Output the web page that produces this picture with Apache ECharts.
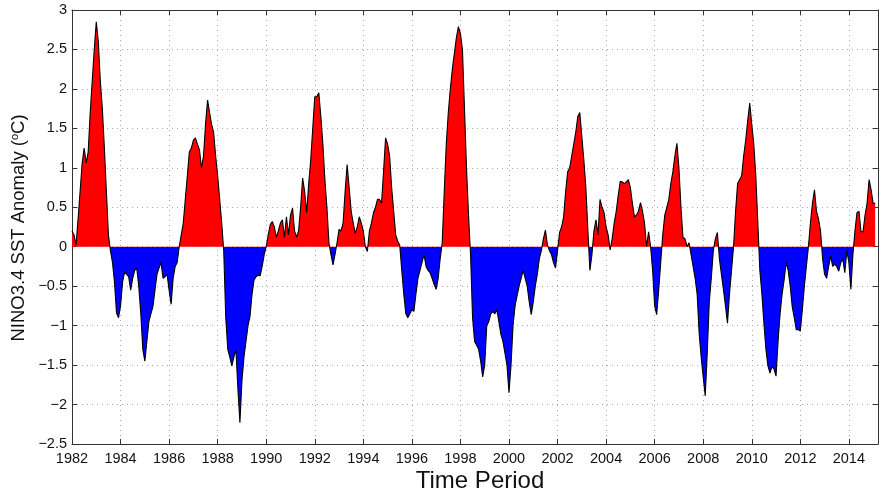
<!DOCTYPE html>
<html>
<head>
<meta charset="utf-8">
<script src="https://cdn.jsdelivr.net/npm/echarts@6/dist/echarts.min.js"></script>
<style>html,body{margin:0;padding:0;background:#fff}#c{width:885px;height:492px}</style>
</head>
<body>
<div id="c"></div>
<script>
// Monthly NINO3.4 SST anomaly (°C), starting January 1982
const startYear = 1982;
const anom1982_1989 = [
  0.2, 0.15, 0.02, 0.35, 0.7, 1.05, 1.25, 1.06, 1.2, 1.7, 2.1, 2.5,
  2.85, 2.6, 2.1, 1.75, 1.25, 0.7, 0.15, -0.05, -0.2, -0.45, -0.84, -0.9,
  -0.75, -0.45, -0.32, -0.35, -0.38, -0.55, -0.4, -0.3, -0.27, -0.5, -0.85, -1.3,
  -1.45, -1.2, -0.95, -0.85, -0.76, -0.55, -0.35, -0.27, -0.2, -0.4, -0.38, -0.35,
  -0.55, -0.73, -0.4, -0.25, -0.2, 0.0, 0.15, 0.3, 0.6, 0.9, 1.2, 1.25,
  1.35, 1.38, 1.3, 1.23, 1.0, 1.15, 1.55, 1.86, 1.7, 1.55, 1.45, 1.15,
  0.9, 0.6, 0.3, -0.05, -0.9, -1.3, -1.4, -1.51, -1.4, -1.3, -1.8, -2.23,
  -1.7, -1.4, -1.2, -1.0, -0.88, -0.6, -0.42, -0.38, -0.36, -0.37, -0.25, -0.1
];
const anom1990_1999 = [
  0.0, 0.15, 0.28, 0.32, 0.25, 0.12, 0.2, 0.3, 0.34, 0.12, 0.38, 0.15,
  0.4, 0.49, 0.2, 0.12, 0.2, 0.5, 0.87, 0.7, 0.43, 0.8, 1.1, 1.5,
  1.9, 1.9, 1.95, 1.65, 1.3, 0.85, 0.5, 0.05, -0.1, -0.23, -0.1, 0.05,
  0.22, 0.2, 0.3, 0.7, 1.04, 0.75, 0.45, 0.3, 0.17, 0.25, 0.38, 0.3,
  0.2, 0.0, -0.06, 0.2, 0.3, 0.43, 0.5, 0.6, 0.6, 0.55, 0.95, 1.38,
  1.3, 1.15, 0.75, 0.45, 0.15, 0.07, 0.02, -0.3, -0.6, -0.85, -0.9, -0.85,
  -0.8, -0.82, -0.6, -0.4, -0.3, -0.2, -0.1, -0.25, -0.3, -0.33, -0.4, -0.48,
  -0.54, -0.4, -0.15, 0.05, 0.7, 1.3, 1.7, 2.0, 2.25, 2.45, 2.65, 2.79,
  2.7, 2.5, 1.75, 1.0, 0.4, -0.1, -0.9, -1.2, -1.25, -1.3, -1.45, -1.65,
  -1.5, -1.0, -0.95, -0.85, -0.82, -0.85, -0.8, -0.95, -1.11, -1.2, -1.35, -1.5
];
const anom2000_2009 = [
  -1.85, -1.5, -1.0, -0.75, -0.62, -0.5, -0.4, -0.3, -0.4, -0.5, -0.7, -0.86,
  -0.7, -0.5, -0.35, -0.15, -0.05, 0.1, 0.21, 0.02, -0.05, -0.1, -0.2, -0.27,
  -0.05, 0.18, 0.25, 0.38, 0.7, 0.95, 1.0, 1.15, 1.3, 1.45, 1.65, 1.7,
  1.4, 1.1, 0.75, 0.2, -0.3, -0.1, 0.2, 0.34, 0.15, 0.6, 0.5, 0.43,
  0.25, 0.15, -0.04, 0.1, 0.3, 0.45, 0.65, 0.83, 0.82, 0.8, 0.82, 0.85,
  0.75, 0.55, 0.38, 0.4, 0.45, 0.56, 0.45, 0.3, 0.0, 0.19, 0.0, -0.3,
  -0.75, -0.86, -0.55, -0.2, 0.15, 0.4, 0.5, 0.6, 0.8, 0.95, 1.15, 1.31,
  1.0, 0.5, 0.12, 0.1, 0.0, 0.05, -0.1, -0.25, -0.4, -0.6, -1.1, -1.4,
  -1.65, -1.89, -1.35, -0.7, -0.4, -0.05, 0.1, 0.18, -0.15, -0.35, -0.54, -0.75,
  -0.97, -0.6, -0.3, 0.0, 0.45, 0.8, 0.85, 0.9, 1.15, 1.35, 1.6, 1.82
];
const anom2010_2015 = [
  1.55, 1.3, 0.9, 0.3, -0.3, -0.6, -0.97, -1.3, -1.51, -1.6, -1.52, -1.55,
  -1.64, -1.2, -0.85, -0.6, -0.42, -0.2, -0.3, -0.5, -0.76, -0.9, -1.05, -1.05,
  -1.07, -0.8, -0.5, -0.25, 0.0, 0.3, 0.55, 0.72, 0.45, 0.35, 0.2, -0.15,
  -0.35, -0.4, -0.25, -0.12, -0.25, -0.22, -0.25, -0.31, -0.2, -0.16, -0.33, -0.05,
  -0.2, -0.54, -0.1, 0.2, 0.43, 0.45, 0.19, 0.19, 0.4, 0.55, 0.85, 0.72,
  0.55, 0.55
];
const xTickYears = [1982,1984,1986,1988,1990,1992,1994,1996,1998,2000,2002,2004,2006,2008,2010,2012,2014];
const yTicks = [-2.5,-2,-1.5,-1,-0.5,0,0.5,1,1.5,2,2.5,3];

const values = anom1982_1989.concat(anom1990_1999, anom2000_2009, anom2010_2015);
const series = values.map((v, i) => [startYear + i / 12, v]);

const FONT = 'Liberation Sans';
const chart = echarts.init(document.getElementById('c'), null, {renderer: 'canvas'});
const gridLine = {show: true, lineStyle: {color: '#aaaaaa', width: 1, type: [1, 4]}};
const axLine = {show: true, onZero: false, lineStyle: {color: '#333', width: 1}};
const ticks = {show: true, inside: true, length: 5, lineStyle: {color: '#333', width: 1}};
const fmtY = v => {
  const s = String(Math.abs(v));
  return v < 0 ? '\u2212' + s : s;
};

chart.setOption({
  animation: false,
  backgroundColor: '#fff',
  grid: {left: 72, right: 7, top: 10, bottom: 48, containLabel: false},
  xAxis: [{
    type: 'value', min: 1982, max: 2015.2, interval: 2, position: 'bottom',
    axisLine: axLine, axisTick: ticks, splitLine: gridLine,
    axisLabel: {
      color: '#111', fontFamily: FONT, fontSize: 14.5, margin: 7,
      showMaxLabel: false,
      formatter: v => (xTickYears.indexOf(v) >= 0 ? String(v) : '')
    }
  }, {
    type: 'value', min: 1982, max: 2015.2, interval: 2, position: 'top',
    axisLine: axLine, axisTick: ticks, splitLine: {show: false}, axisLabel: {show: false}
  }],
  yAxis: [{
    type: 'value', min: yTicks[0], max: yTicks[yTicks.length - 1], interval: 0.5, position: 'left',
    axisLine: axLine, axisTick: ticks, splitLine: gridLine,
    axisLabel: {color: '#111', fontFamily: FONT, fontSize: 14.5, margin: 5, formatter: fmtY}
  }, {
    type: 'value', min: yTicks[0], max: yTicks[yTicks.length - 1], interval: 0.5, position: 'right',
    axisLine: axLine, axisTick: ticks, splitLine: {show: false}, axisLabel: {show: false}
  }],
  visualMap: {
    type: 'piecewise', show: false, dimension: 1, seriesIndex: 0,
    pieces: [{gt: 0, lte: 10, color: '#ff0000'}, {gte: -10, lte: 0, color: '#0000ff'}]
  },
  series: [{
    type: 'line', data: series, showSymbol: false, symbol: 'none',
    xAxisIndex: 0, yAxisIndex: 0,
    lineStyle: {width: 0}, areaStyle: {opacity: 1}, silent: true, z: 2
  }, {
    type: 'line', data: series, showSymbol: false, symbol: 'none',
    xAxisIndex: 0, yAxisIndex: 0,
    lineStyle: {width: 1.1, color: '#000'}, itemStyle: {color: '#000'}, silent: true, z: 3
  }],
  graphic: [{
    type: 'text', x: 480, y: 481,
    style: {text: 'Time Period', font: '24px "Liberation Sans"', fill: '#111', align: 'center', verticalAlign: 'middle'}
  }, {
    type: 'text', x: 19, y: 228, rotation: Math.PI / 2,
    style: {
      text: '{a|NINO3.4 SST Anomaly (}{s|o}{a|C)}',
      align: 'center', verticalAlign: 'middle', fill: '#111',
      rich: {
        a: {fontFamily: FONT, fontSize: 18.5, lineHeight: 20, fill: '#111'},
        s: {fontFamily: FONT, fontSize: 11, lineHeight: 11, verticalAlign: 'top', fill: '#111'}
      }
    }
  }]
});
</script>
</body>
</html>
